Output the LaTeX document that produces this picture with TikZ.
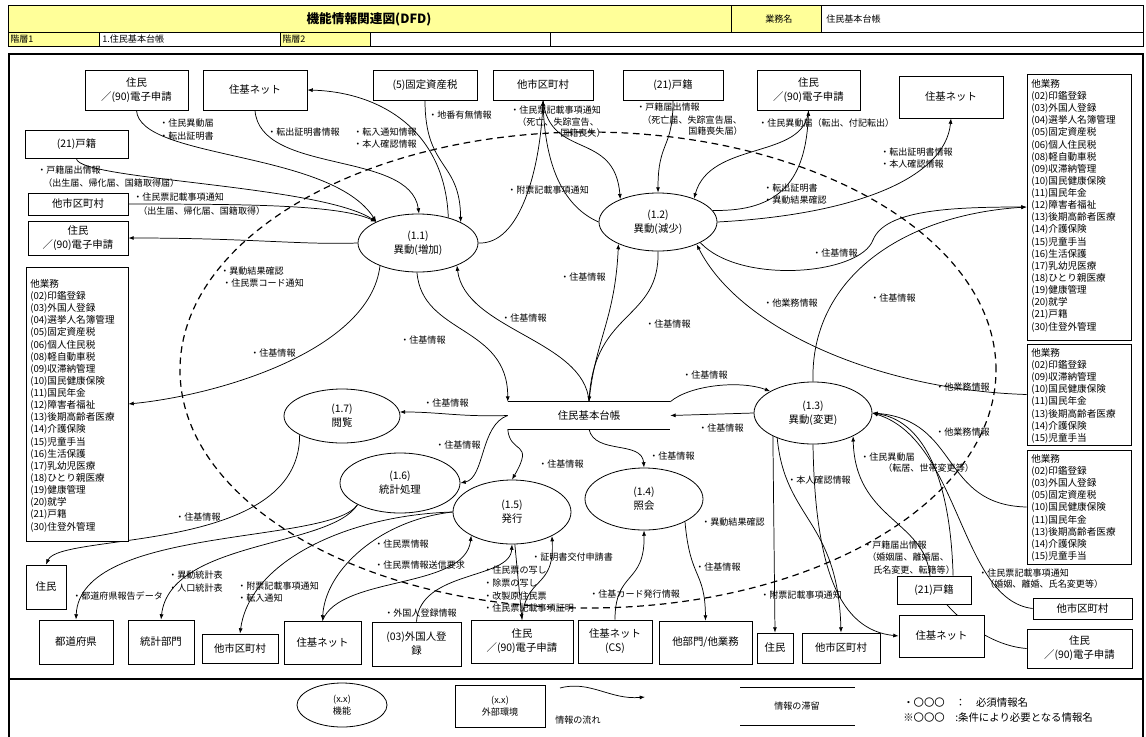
\documentclass[tikz,border=0pt]{standalone}
\usepackage{fontspec}
\setmainfont{Noto Sans CJK JP}
\usetikzlibrary{shapes.geometric,arrows.meta}
\pgfdeclarelayer{bg}
\pgfsetlayers{bg,main}
\definecolor{hy}{RGB}{255,255,153}
\newcommand\lbf{\fontsize{6.8}{9}\selectfont}
\newcommand\bxf{\fontsize{7.8}{10.5}\selectfont}
\newcommand\lsf{\fontsize{7.2}{9.1}\selectfont}
\newcommand\ttlf{\fontsize{9.5}{11}\selectfont\bfseries}
\begin{document}
\begin{tikzpicture}[x=0.75pt,y=-0.75pt,
  bx/.style={draw, fill=white, rectangle, align=center, inner sep=1pt, font=\bxf, line width=0.6pt},
  pr/.style={draw, fill=white, ellipse, align=center, inner sep=0pt, font=\bxf, line width=0.6pt},
  lb/.style={anchor=west, inner sep=0pt, font=\lbf},
  ls/.style={anchor=north west, inner sep=0pt, align=left, font=\lsf},
  hd/.style={anchor=west, inner sep=0pt, font=\lbf},
  fl/.style={-{Latex[length=4pt,width=3pt]}, line width=0.55pt},
]
\useasboundingbox (0,0) rectangle (1146,736);
% header
\fill[hy] (8,5) rectangle (821,32);
\fill[hy] (8,32) rectangle (99,46);
\fill[hy] (280,32) rectangle (370,46);
\draw[line width=0.5pt] (8,5) rectangle (1143,46);
\draw[line width=0.5pt] (8,32) -- (1143,32);
\draw[line width=0.5pt] (731,5) -- (731,32) (821,5) -- (821,32);
\draw[line width=0.5pt] (99,32) -- (99,46) (280,32) -- (280,46) (370,32) -- (370,46) (550,32) -- (550,46);
\node[font=\ttlf, inner sep=0pt] (title) at (369,19) {機能情報関連図(DFD)};
\node[hd] (h1) at (765,19) {業務名};
\node[hd] (h2) at (826,19) {住民基本台帳};
\node[hd] (h3) at (10,39.5) {階層1};
\node[hd] (h4) at (102,39.5) {1.住民基本台帳};
\node[hd] (h5) at (282,39.5) {階層2};
% frame
\draw[line width=1.4pt] (9,54) rectangle (1143,745);
\draw[line width=1.4pt] (9,679) -- (1143,679);

% data store
\node[font=\bxf, minimum width=121.5pt, minimum height=20.25pt, inner sep=0pt] (ds) at (589,415.5) {住民基本台帳};
\draw[line width=0.6pt] (ds.north west) -- (ds.north east) (ds.south west) -- (ds.south east);

% processes
\node[pr, minimum width=90pt, minimum height=43.5pt] (p11) at (418,243) {(1.1)\\異動(増加)};
\node[pr, minimum width=88.5pt, minimum height=43.5pt] (p12) at (658,222) {(1.2)\\異動(減少)};
\node[pr, minimum width=88.5pt, minimum height=46.5pt] (p13) at (813,413) {(1.3)\\異動(変更)};
\node[pr, minimum width=88.5pt, minimum height=46.5pt] (p14) at (644,499) {(1.4)\\照会};
\node[pr, minimum width=88.5pt, minimum height=48pt] (p15) at (512,512) {(1.5)\\発行};
\node[pr, minimum width=90pt, minimum height=45pt] (p16) at (400,483) {(1.6)\\統計処理};
\node[pr, minimum width=87pt, minimum height=40.5pt] (p17) at (342,416) {(1.7)\\閲覧};

% external boxes
\node[bx, minimum width=77.25pt, minimum height=30pt] (jtl) at (136.5,90) {住民\\／(90)電子申請};
\node[bx, minimum width=78pt, minimum height=30pt] (ztl) at (255,90) {住基ネット};
\node[bx, minimum width=78pt, minimum height=22.5pt] (kotei) at (425,85) {(5)固定資産税};
\node[bx, minimum width=75pt, minimum height=22.5pt] (tst) at (543,85) {他市区町村};
\node[bx, minimum width=75pt, minimum height=22.5pt] (kt) at (673,85) {(21)戸籍};
\node[bx, minimum width=77.25pt, minimum height=30pt] (jtr) at (808.5,90) {住民\\／(90)電子申請};
\node[bx, minimum width=78pt, minimum height=31.5pt] (ztr) at (951,97) {住基ネット};
\node[bx, minimum width=77.25pt, minimum height=21pt] (kl) at (76.5,144.5) {(21)戸籍};
\node[bx, minimum width=75pt, minimum height=16.5pt] (tl) at (78,204) {他市区町村};
\node[bx, minimum width=75pt, minimum height=25.5pt] (jl) at (78,238) {住民\\／(90)電子申請};
\node[bx, minimum width=76.5pt, minimum height=205.5pt] (gl) at (77,404) {};
\node[bx, minimum width=30pt, minimum height=33pt] (jbl) at (46,587) {住民};
\node[bx, minimum width=55.5pt, minimum height=33pt] (todo) at (76,642) {都道府県};
\node[bx, minimum width=49.5pt, minimum height=33pt] (toukei) at (161,642) {統計部門};
\node[bx, minimum width=57pt, minimum height=21.75pt] (tb) at (240,648.5) {他市区町村};
\node[bx, minimum width=57.75pt, minimum height=32.25pt] (zb) at (322.5,642.5) {住基ネット};
\node[bx, minimum width=66.75pt, minimum height=33pt] (gai) at (416.5,644) {(03)外国人登\\録};
\node[bx, minimum width=76.5pt, minimum height=32.25pt] (jb) at (522,641.5) {住民\\／(90)電子申請};
\node[bx, minimum width=55.5pt, minimum height=32.25pt] (cs) at (615,641.5) {住基ネット\\(CS)};
\node[bx, minimum width=69.75pt, minimum height=32.25pt] (tabu) at (705.5,642.5) {他部門/他業務};
\node[bx, minimum width=27pt, minimum height=22.5pt] (jb2) at (775,648) {住民};
\node[bx, minimum width=58.5pt, minimum height=22.5pt] (tb2) at (841,648) {他市区町村};
\node[bx, minimum width=55.5pt, minimum height=21pt] (kbr) at (934,590) {(21)戸籍};
\node[bx, minimum width=63.75pt, minimum height=31.5pt] (zbr) at (941.5,636) {住基ネット};
\node[bx, minimum width=74.25pt, minimum height=15.75pt] (tr) at (1082.5,608.5) {他市区町村};
\node[bx, minimum width=78.75pt, minimum height=29.25pt] (jbr) at (1079.5,648.5) {住民\\／(90)電子申請};
\node[bx, minimum width=78pt, minimum height=199.5pt] (gtr) at (1079,207) {};
\node[bx, minimum width=78pt, minimum height=75.75pt] (gmr) at (1079,394.5) {};
\node[bx, minimum width=78pt, minimum height=85.5pt] (gbr) at (1079,507) {};

% lists
\node[ls] (gltx) at (30,279) {他業務\\(02)印鑑登録\\(03)外国人登録\\(04)選挙人名簿管理\\(05)固定資産税\\(06)個人住民税\\(08)軽自動車税\\(09)収滞納管理\\(10)国民健康保険\\(11)国民年金\\(12)障害者福祉\\(13)後期高齢者医療\\(14)介護保険\\(15)児童手当\\(16)生活保護\\(17)乳幼児医療\\(18)ひとり親医療\\(19)健康管理\\(20)就学\\(21)戸籍\\(30)住登外管理};
\node[ls] (gtrtx) at (1031,79) {他業務\\(02)印鑑登録\\(03)外国人登録\\(04)選挙人名簿管理\\(05)固定資産税\\(06)個人住民税\\(08)軽自動車税\\(09)収滞納管理\\(10)国民健康保険\\(11)国民年金\\(12)障害者福祉\\(13)後期高齢者医療\\(14)介護保険\\(15)児童手当\\(16)生活保護\\(17)乳幼児医療\\(18)ひとり親医療\\(19)健康管理\\(20)就学\\(21)戸籍\\(30)住登外管理};
\node[ls] (gmrtx) at (1031,348) {他業務\\(02)印鑑登録\\(09)収滞納管理\\(10)国民健康保険\\(11)国民年金\\(13)後期高齢者医療\\(14)介護保険\\(15)児童手当};
\node[ls] (gbrtx) at (1031,454) {他業務\\(02)印鑑登録\\(03)外国人登録\\(05)固定資産税\\(10)国民健康保険\\(11)国民年金\\(13)後期高齢者医療\\(14)介護保険\\(15)児童手当};

\begin{pgfonlayer}{bg}
\draw[dash pattern=on 5pt off 3.5pt, line width=0.9pt] (588,370) ellipse [x radius=306pt, y radius=178.5pt];
% top left
\draw[fl] (jtl.south) .. controls (140,160) and (330,150) .. (p11.153);
\draw[fl] (kl.south) .. controls (80,180) and (320,185) .. (p11.153);
\draw[fl] (tl.east) .. controls (250,204) and (340,205) .. (p11.153);
\draw[fl] (p11.180) .. controls (300,245) and (250,238) .. (jl.east);
\draw[fl] (ztl.south) .. controls (260,175) and (410,150) .. (p11.88);
\draw[fl] (p11.40) .. controls (445,130) and (380,92) .. (ztl.east);
\draw[fl] (kotei.south) .. controls (425,170) and (460,160) .. (p11.26);
\draw[fl] (p11.0) .. controls (520,245) and (540,170) .. (tst.south);
\draw[fl] (tst.south) .. controls (550,160) and (615,130) .. (p12.149);
\draw[fl] (p12.180) .. controls (560,205) and (545,160) .. (tst.south);
\draw[fl] (kt.south) .. controls (673,150) and (658,140) .. (p12.90);
\draw[fl] (jtr.south) .. controls (805,160) and (710,140) .. (p12.33);
\draw[fl] (p12.12) .. controls (780,212) and (806,180) .. (jtr.south);
\draw[fl] (p12.0) .. controls (850,215) and (945,180) .. (ztr.south);
\draw[fl] (p12.-26) .. controls (740,285) and (860,275) .. (873,240) .. controls (885,210) and (950,207) .. (gtr.west);
\draw[fl] (gmr.west) .. controls (880,390) and (740,330) .. (p12.-30);
\draw[fl] (p13.90) .. controls (810,280) and (900,215) .. (gtr.west);
\draw[fl] (p11.211) .. controls (370,350) and (220,395) .. (gl.east);
\draw[fl] (p17.204) .. controls (300,555) and (60,532) .. (jbl.north);
\draw[fl] (p16.207) .. controls (330,545) and (80,525) .. (todo.north);
\draw[fl] (p16.207) .. controls (330,548) and (170,540) .. (toukei.north);
\draw[fl] (p15.180) .. controls (350,515) and (250,560) .. (tb.north);
\draw[fl] (p15.180) .. controls (380,520) and (325,570) .. (zb.north);
\draw[fl] (zb.north) .. controls (340,575) and (465,590) .. (p15.210);
\draw[fl] (gai.north) .. controls (420,570) and (510,580) .. (p15.270);
\draw[fl] (p15.275) -- (jb.north);
\draw[fl] (jb.north) .. controls (525,575) and (555,590) .. (p15.-31);
\draw[fl] (cs.north) .. controls (615,570) and (645,585) .. (p14.270);
\draw[fl] (p14.-29) .. controls (690,580) and (705,570) .. (tabu.north);
% store
\draw[fl] (p11.268) .. controls (422,335) and (508,325) .. (ds.north west);
\draw[fl] (ds.north) .. controls (585,340) and (465,330) .. (p11.-30);
\draw[fl] (ds.north) .. controls (595,340) and (615,320) .. (p12.209);
\draw[fl] (p12.270) .. controls (660,320) and (595,310) .. (ds.north);
\draw[fl] (ds.north east) .. controls (690,385) and (740,380) .. (p13.153);
\draw[fl] (p13.180) -- (ds.east);
\draw[fl] (ds.west) .. controls (460,417) and (440,412) .. (p17.4);
\draw[fl] (ds.west) .. controls (480,425) and (485,478) .. (p16.0);
\draw[fl] (ds.south west) .. controls (510,455) and (535,440) .. (p15.90);
\draw[fl] (ds.south) .. controls (595,455) and (642,440) .. (p14.90);
% 1.3
\draw[fl] (p13.210) -- (jb2.north);
\draw[fl] (p13.215) .. controls (785,520) and (838,520) .. (tb2.north);
\draw[fl] (p13.270) .. controls (815,570) and (840,630) .. (zbr.west);
\draw[fl] (gbr.west) .. controls (940,505) and (960,420) .. (p13.0);
\draw[fl] (tr.west) .. controls (960,600) and (960,440) .. (p13.0);
\draw[fl] (kbr.37) .. controls (950,470) and (920,420) .. (p13.0);
\draw[fl] (jbr.west) .. controls (980,645) and (935,600) .. (930,576) .. controls (925,520) and (855,520) .. (p13.-30);
\end{pgfonlayer}

% labels
\node[lb] (a1) at (159,123) {・住民異動届};
\node[lb] (a2) at (159,136) {・転出証明書};
\node[lb] (a3) at (267,132) {・転出証明書情報};
\node[lb] (a4) at (353,132) {・転入通知情報};
\node[lb] (a5) at (353,144) {・本人確認情報};
\node[lb] (a6) at (37,170) {・戸籍届出情報};
\node[lb] (a7) at (43,183) {（出生届、帰化届、国籍取得届）};
\node[lb] (a8) at (133,197) {・住民票記載事項通知};
\node[lb] (a9) at (138,211) {（出生届、帰化届、国籍取得）};
\node[lb] (a10) at (428,115) {・地番有無情報};
\node[lb] (a11) at (510,110) {・住民票記載事項通知};
\node[lb] (a12) at (517,122) {（死亡、失踪宣告、};
\node[lb] (a13) at (560,133) {国籍喪失）};
\node[lb] (a14) at (636,107) {・戸籍届出情報};
\node[lb] (a15) at (642,120) {（死亡届、失踪宣告届、};
\node[lb] (a16) at (688,131) {国籍喪失届）};
\node[lb] (a17) at (507,190) {・附票記載事項通知};
\node[lb] (a18) at (758,123) {・住民異動届（転出、付記転出）};
\node[lb] (a19) at (763,188) {・転出証明書};
\node[lb] (a20) at (763,200) {・異動結果確認};
\node[lb] (a21) at (880,152) {・転出証明書情報};
\node[lb] (a22) at (880,164) {・本人確認情報};
\node[lb] (a23) at (812,253) {・住基情報};
\node[lb] (a24) at (763,303) {・他業務情報};
\node[lb] (a25) at (870,298) {・住基情報};
\node[lb] (a26) at (935,387) {・他業務情報};
\node[lb] (a27) at (935,432) {・他業務情報};
\node[lb] (a28) at (220,271) {・異動結果確認};
\node[lb] (a29) at (222,283) {・住民票コード通知};
\node[lb] (a30) at (250,353) {・住基情報};
\node[lb] (a31) at (560,277) {・住基情報};
\node[lb] (a32) at (645,324) {・住基情報};
\node[lb] (a33) at (400,340) {・住基情報};
\node[lb] (a34) at (501,318) {・住基情報};
\node[lb] (a35) at (682,375) {・住基情報};
\node[lb] (a36) at (698,428) {・住基情報};
\node[lb] (a37) at (423,403) {・住基情報};
\node[lb] (a38) at (435,445) {・住基情報};
\node[lb] (a39) at (538,464) {・住基情報};
\node[lb] (a40) at (649,456) {・住基情報};
\node[lb] (a41) at (701,522) {・異動結果確認};
\node[lb] (a42) at (695,567) {・住基情報};
\node[lb] (a43) at (589,594) {・住基カード発行情報};
\node[lb] (a44) at (531,557) {・証明書交付申請書};
\node[lb] (a45) at (483,570) {・住民票の写し};
\node[lb] (a46) at (483,583) {・除票の写し};
\node[lb] (a47) at (483,596) {・改製原住民票};
\node[lb] (a48) at (483,608) {・住民票記載事項証明};
\node[lb] (a49) at (384,613) {・外国人登録情報};
\node[lb] (a50) at (374,544) {・住民票情報};
\node[lb] (a51) at (374,565) {・住民票情報送信要求};
\node[lb] (a52) at (237,586) {・附票記載事項通知};
\node[lb] (a53) at (237,598) {・転入通知};
\node[lb] (a54) at (168,575) {・異動統計表};
\node[lb] (a55) at (168,588) {・人口統計表};
\node[lb] (a56) at (72,596) {・都道府県報告データ};
\node[lb] (a57) at (175,517) {・住基情報};
\node[lb] (a58) at (787,480) {・本人確認情報};
\node[lb] (a59) at (860,457) {・住民異動届};
\node[lb] (a60) at (883,468) {（転居、世帯変更等）};
\node[lb] (a61) at (863,545) {・戸籍届出情報};
\node[lb] (a62) at (867,557) {（婚姻届、離婚届、};
\node[lb] (a63) at (873,570) {氏名変更、転籍等）};
\node[lb] (a64) at (978,573) {・住民票記載事項通知};
\node[lb] (a65) at (985,584) {（婚姻、離婚、氏名変更等）};
\node[lb] (a66) at (760,595) {・附票記載事項通知};

% legend
\node[pr, font=\lbf, minimum width=67.5pt, minimum height=33pt] (lgp) at (342,705) {(x.x)\\機能};
\node[bx, font=\lbf, minimum width=67.5pt, minimum height=31.5pt] (lge) at (500,706) {(x.x)\\外部環境};
\coordinate (lga) at (560,688);
\coordinate (lgb) at (645,697);
\draw[fl] (lga) .. controls (590,680) and (610,700) .. (lgb);
\node[lb] (lgf) at (555,720) {情報の流れ};
\draw[line width=0.6pt] (740,687) -- (855,687) (740,725) -- (855,725);
\node[font=\lbf, inner sep=0pt] (lgs) at (797,706) {情報の滞留};
\node[lb, font=\fontsize{7.8}{9}\selectfont] (lgn1) at (903,703) {・〇〇〇　：　必須情報名};
\node[lb, font=\fontsize{7.8}{9}\selectfont] (lgn2) at (903,718) {※〇〇〇　:条件により必要となる情報名};
\end{tikzpicture}
\end{document}
